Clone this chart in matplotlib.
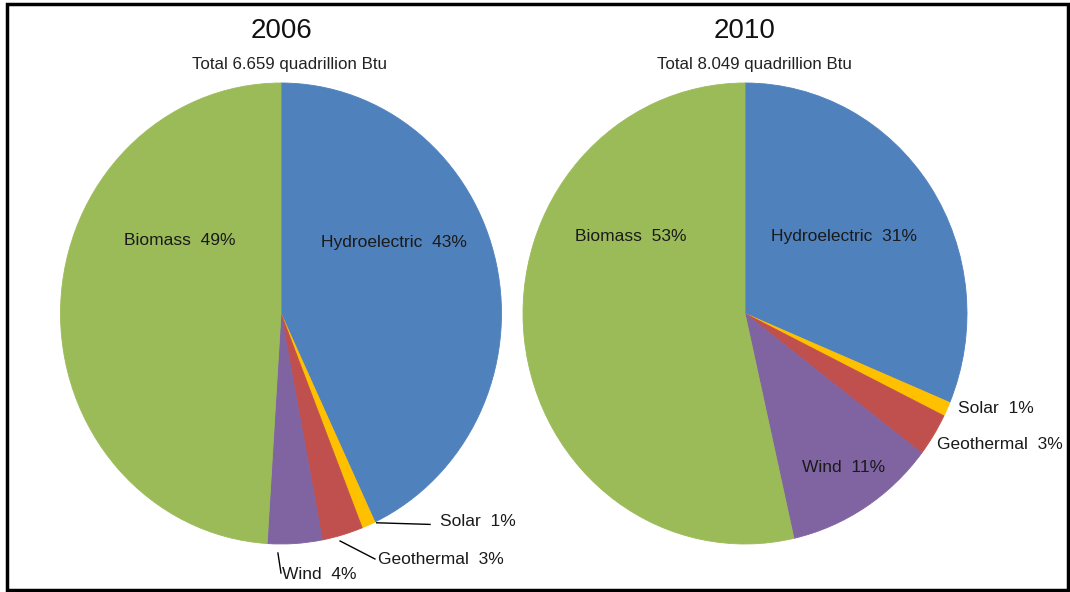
import matplotlib
matplotlib.use("Agg")
import matplotlib.pyplot as plt
from matplotlib.patches import Rectangle

plt.rcParams['font.family'] = ['Liberation Sans', 'DejaVu Sans']

# ---------------- data ----------------
categories = ["Hydroelectric", "Solar", "Geothermal", "Wind", "Biomass"]
values_2006 = [43, 1, 3, 4, 49]
values_2010 = [31, 1, 3, 11, 53]
years = ["2006", "2010"]
totals = ["Total 6.659 quadrillion Btu", "Total 8.049 quadrillion Btu"]

colors = ["#4F81BD", "#FFC000", "#C0504D", "#8064A2", "#9BBB59"]

W, H = 1070, 592
fig = plt.figure(figsize=(W / 100, H / 100), dpi=100)

# pie boxes in pixel coords: (cx, cy, rx, ry) -- cy from top
boxes = [(281, 313.5, 220.5, 230.5), (745, 313.5, 222, 230.5)]

# label positions in pie units (x/rx, y/ry), alignment
label_pos = [
    {"Hydroelectric": (0.51, 0.31, "center"),
     "Biomass": (-0.458, 0.315, "center"),
     "Solar": (0.72, -0.904, "left"),
     "Geothermal": (0.44, -1.069, "left"),
     "Wind": (0.005, -1.134, "left")},
    {"Hydroelectric": (0.444, 0.332, "center"),
     "Biomass": (-0.515, 0.336, "center"),
     "Wind": (0.444, -0.670, "center"),
     "Solar": (0.959, -0.414, "left"),
     "Geothermal": (0.865, -0.570, "left")},
]
leaders = [
    {"Solar": ((0.434, -0.908), (0.676, -0.915)),
     "Geothermal": ((0.268, -0.987), (0.426, -1.065)),
     "Wind": ((-0.014, -1.039), (0.0, -1.126))},
    {},
]
title_pos = [(282, 31), (745, 31)]
sub_pos = [(290, 64), (754, 64)]

for i, vals in enumerate([values_2006, values_2010]):
    cx, cy, rx, ry = boxes[i]
    ax = fig.add_axes([(cx - rx) / W, (H - cy - ry) / H, 2 * rx / W, 2 * ry / H])
    ax.pie(vals, colors=colors, startangle=90, counterclock=False, radius=1,
           wedgeprops=dict(linewidth=0.6, edgecolor=None))
    for w, c in zip(ax.patches, colors):
        w.set_edgecolor(c)
    ax.set_aspect('auto')
    ax.set_xlim(-1, 1)
    ax.set_ylim(-1, 1)
    ax.axis('off')
    for cat, v in zip(categories, vals):
        x, y, ha = label_pos[i][cat]
        ax.text(x, y, f"{cat}  {v}%", ha=ha, va="center", fontsize=12.5,
                color="#1a1a1a", clip_on=False)
        if cat in leaders[i]:
            (x0, y0), (x1, y1) = leaders[i][cat]
            ax.plot([x0, x1], [y0, y1], color="black", lw=1, clip_on=False)
    fig.text(title_pos[i][0] / W, 1 - title_pos[i][1] / H, years[i],
             ha="center", va="center", fontsize=20, color="#111111")
    fig.text(sub_pos[i][0] / W, 1 - sub_pos[i][1] / H, totals[i],
             ha="center", va="center", fontsize=12.2, color="#222222")

fig.add_artist(Rectangle((7 / W, 2 / H), (1068 - 7) / W, (588 - 2) / H,
                         transform=fig.transFigure, fill=False, lw=2.5,
                         edgecolor="black"))

fig.savefig("out.png", dpi=100)
